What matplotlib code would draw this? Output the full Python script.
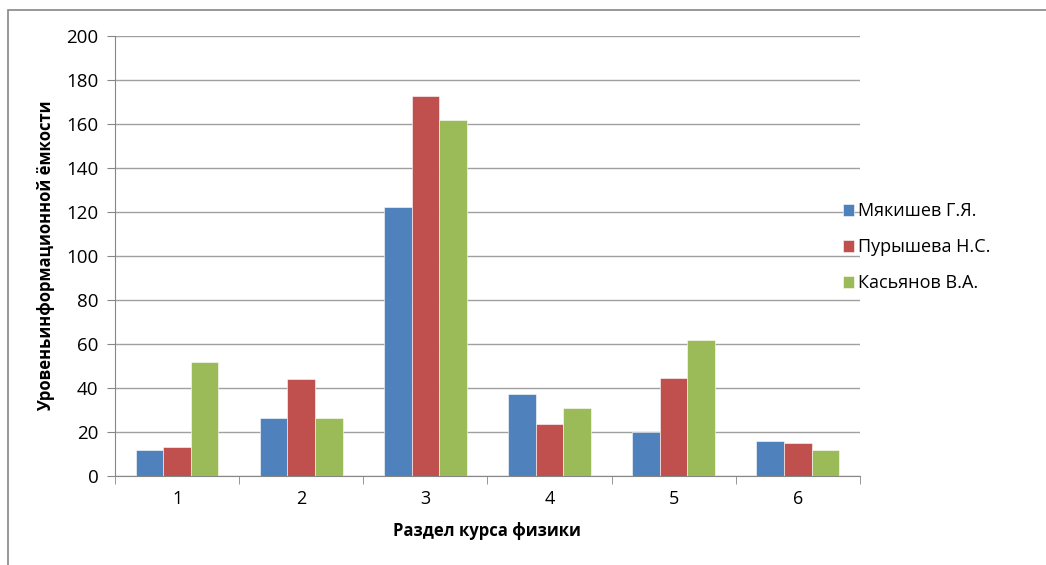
import matplotlib.pyplot as plt
import numpy as np
from matplotlib.patches import Rectangle

plt.rcParams['font.family'] = ['Open Sans', 'DejaVu Sans']

sections = ['1', '2', '3', '4', '5', '6']
myakishev = [11.8, 26.5, 122.3, 37.4, 20.2, 15.8]
purysheva = [13.0, 44.0, 172.9, 23.8, 44.5, 14.8]
kasyanov = [52.0, 26.5, 161.8, 31.0, 61.7, 11.7]
series_names = ['Мякишев Г.Я.', 'Пурышева Н.С.', 'Касьянов В.А.']
colors = ['#4F81BD', '#C0504D', '#9BBB59']

fig = plt.figure(figsize=(10.46, 5.65), dpi=100)
ax = fig.add_axes([0.11, 0.1575, 0.712, 0.7787])

# outer frame like the excel chart border
fig.patches.append(Rectangle((0.008, -0.01), 1.2, 0.993, transform=fig.transFigure,
                             fill=False, edgecolor='#868686', linewidth=1.2))

x = np.arange(len(sections))
w = 1 / 4.5
for i, (vals, name) in enumerate(zip([myakishev, purysheva, kasyanov], series_names)):
    ax.bar(x + (i - 1) * w, vals, width=w, color=colors[i], label=name,
           edgecolor='white', linewidth=0.4, zorder=3)

ax.set_xlim(-0.5, len(sections) - 0.5)
ax.set_ylim(0, 200)
ax.set_yticks(range(0, 201, 20))
ax.set_xticks(x)
ax.set_xticklabels(sections)
ax.set_xticks(np.arange(-0.5, len(sections)), minor=True)
ax.tick_params(axis='x', which='major', length=0, pad=10, labelsize=13)
ax.tick_params(axis='x', which='minor', length=6, color='#868686', direction='out')
ax.tick_params(axis='y', length=6, color='#868686', direction='out', labelsize=13.5, pad=6)
ax.grid(axis='y', color='#A0A0A0', linewidth=1, zorder=0)

for s in ['top', 'right']:
    ax.spines[s].set_visible(False)
for s in ['left', 'bottom']:
    ax.spines[s].set_color('#868686')

ax.set_xlabel('Раздел курса физики', fontsize=12, fontweight='bold', labelpad=10)
ax.set_ylabel('Уровеньинформационной ёмкости', fontsize=12, fontweight='bold', labelpad=8)

ax.legend(loc='center left', bbox_to_anchor=(0.977, 0.52), frameon=False, fontsize=13,
          borderpad=0, borderaxespad=0,
          handlelength=0.6, handleheight=0.6, handletextpad=0.25, labelspacing=1.0)

fig.savefig('out.png', dpi=100)
